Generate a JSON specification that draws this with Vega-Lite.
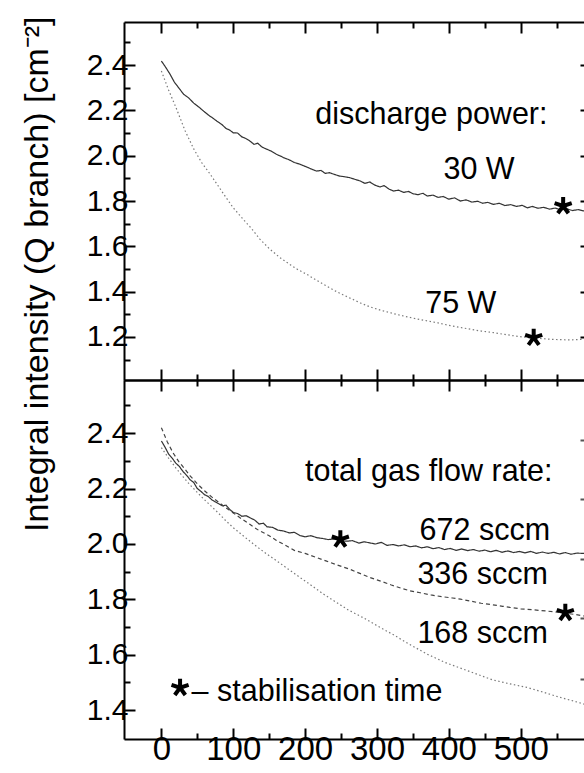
{
  "$schema": "https://vega.github.io/schema/vega-lite/v6.json",
  "padding": {"left": 19, "top": 15, "right": 0, "bottom": 0},
  "bounds": "flush",
  "spacing": 0,
  "background": "white",
  "resolve": {"scale": {"y": "independent", "color": "independent", "strokeDash": "independent"}},
  "config": {
    "view": {"stroke": null},
    "font": "Liberation Sans",
    "axis": {
      "grid": false,
      "domainColor": "#000",
      "domainWidth": 2,
      "tickColor": "#000",
      "tickWidth": 2,
      "labelColor": "#000",
      "labelFont": "Liberation Sans",
      "labelFontSize": 30,
      "titleColor": "#000"
    }
  },
  "datasets": {
    "upper": [
      {"s":"30 W","t":0,"v":2.418},{"s":"30 W","t":6,"v":2.39},{"s":"30 W","t":12,"v":2.36},{"s":"30 W","t":18,"v":2.325},{"s":"30 W","t":24,"v":2.3},{"s":"30 W","t":31,"v":2.271},{"s":"30 W","t":38,"v":2.255},{"s":"30 W","t":45,"v":2.232},{"s":"30 W","t":52,"v":2.215},{"s":"30 W","t":59,"v":2.196},{"s":"30 W","t":66,"v":2.178},{"s":"30 W","t":72,"v":2.165},{"s":"30 W","t":77,"v":2.153},{"s":"30 W","t":84,"v":2.138},{"s":"30 W","t":90,"v":2.12},{"s":"30 W","t":95,"v":2.113},{"s":"30 W","t":100,"v":2.101},{"s":"30 W","t":106,"v":2.1},{"s":"30 W","t":112,"v":2.083},{"s":"30 W","t":118,"v":2.075},{"s":"30 W","t":123,"v":2.065},{"s":"30 W","t":129,"v":2.05},{"s":"30 W","t":134,"v":2.055},{"s":"30 W","t":140,"v":2.038},{"s":"30 W","t":147,"v":2.028},{"s":"30 W","t":153,"v":2.02},{"s":"30 W","t":160,"v":2.006},{"s":"30 W","t":166,"v":1.998},{"s":"30 W","t":170,"v":1.991},{"s":"30 W","t":177,"v":1.983},{"s":"30 W","t":185,"v":1.97},{"s":"30 W","t":193,"v":1.962},{"s":"30 W","t":200,"v":1.953},{"s":"30 W","t":208,"v":1.942},{"s":"30 W","t":216,"v":1.932},{"s":"30 W","t":222,"v":1.935},{"s":"30 W","t":228,"v":1.922},{"s":"30 W","t":234,"v":1.925},{"s":"30 W","t":240,"v":1.918},{"s":"30 W","t":248,"v":1.91},{"s":"30 W","t":255,"v":1.907},{"s":"30 W","t":262,"v":1.903},{"s":"30 W","t":270,"v":1.895},{"s":"30 W","t":277,"v":1.888},{"s":"30 W","t":283,"v":1.878},{"s":"30 W","t":290,"v":1.884},{"s":"30 W","t":297,"v":1.87},{"s":"30 W","t":304,"v":1.862},{"s":"30 W","t":310,"v":1.868},{"s":"30 W","t":317,"v":1.852},{"s":"30 W","t":323,"v":1.844},{"s":"30 W","t":330,"v":1.848},{"s":"30 W","t":337,"v":1.838},{"s":"30 W","t":344,"v":1.842},{"s":"30 W","t":350,"v":1.832},{"s":"30 W","t":357,"v":1.828},{"s":"30 W","t":364,"v":1.834},{"s":"30 W","t":370,"v":1.822},{"s":"30 W","t":378,"v":1.826},{"s":"30 W","t":385,"v":1.816},{"s":"30 W","t":392,"v":1.82},{"s":"30 W","t":400,"v":1.808},{"s":"30 W","t":408,"v":1.814},{"s":"30 W","t":416,"v":1.8},{"s":"30 W","t":424,"v":1.805},{"s":"30 W","t":432,"v":1.795},{"s":"30 W","t":440,"v":1.799},{"s":"30 W","t":447,"v":1.79},{"s":"30 W","t":454,"v":1.794},{"s":"30 W","t":462,"v":1.785},{"s":"30 W","t":470,"v":1.79},{"s":"30 W","t":478,"v":1.78},{"s":"30 W","t":486,"v":1.784},{"s":"30 W","t":494,"v":1.776},{"s":"30 W","t":502,"v":1.781},{"s":"30 W","t":509,"v":1.77},{"s":"30 W","t":516,"v":1.776},{"s":"30 W","t":524,"v":1.768},{"s":"30 W","t":532,"v":1.772},{"s":"30 W","t":540,"v":1.764},{"s":"30 W","t":548,"v":1.769},{"s":"30 W","t":556,"v":1.76},{"s":"30 W","t":564,"v":1.765},{"s":"30 W","t":572,"v":1.758},{"s":"30 W","t":580,"v":1.762},{"s":"30 W","t":588,"v":1.756},
      {"s":"75 W","t":0,"v":2.374},{"s":"75 W","t":10,"v":2.29},{"s":"75 W","t":20,"v":2.215},{"s":"75 W","t":33,"v":2.11},{"s":"75 W","t":45,"v":2.03},{"s":"75 W","t":56,"v":1.97},{"s":"75 W","t":68,"v":1.918},{"s":"75 W","t":80,"v":1.862},{"s":"75 W","t":90,"v":1.815},{"s":"75 W","t":100,"v":1.77},{"s":"75 W","t":115,"v":1.715},{"s":"75 W","t":125,"v":1.68},{"s":"75 W","t":137,"v":1.632},{"s":"75 W","t":150,"v":1.59},{"s":"75 W","t":165,"v":1.55},{"s":"75 W","t":180,"v":1.517},{"s":"75 W","t":190,"v":1.497},{"s":"75 W","t":202,"v":1.477},{"s":"75 W","t":215,"v":1.452},{"s":"75 W","t":230,"v":1.424},{"s":"75 W","t":245,"v":1.398},{"s":"75 W","t":260,"v":1.375},{"s":"75 W","t":277,"v":1.35},{"s":"75 W","t":290,"v":1.333},{"s":"75 W","t":305,"v":1.318},{"s":"75 W","t":323,"v":1.303},{"s":"75 W","t":340,"v":1.29},{"s":"75 W","t":355,"v":1.28},{"s":"75 W","t":370,"v":1.271},{"s":"75 W","t":385,"v":1.262},{"s":"75 W","t":400,"v":1.251},{"s":"75 W","t":416,"v":1.242},{"s":"75 W","t":430,"v":1.234},{"s":"75 W","t":445,"v":1.226},{"s":"75 W","t":462,"v":1.219},{"s":"75 W","t":478,"v":1.211},{"s":"75 W","t":493,"v":1.204},{"s":"75 W","t":509,"v":1.197},{"s":"75 W","t":525,"v":1.194},{"s":"75 W","t":540,"v":1.19},{"s":"75 W","t":555,"v":1.188},{"s":"75 W","t":570,"v":1.187},{"s":"75 W","t":588,"v":1.19}
    ],
    "upperStars": [{"t":559,"v":1.778},{"t":518,"v":1.197}],
    "upperText": [
      {"t":375.6,"v":2.138,"label":"discharge power:"},
      {"t":442,"v":1.896,"label":"30 W"},
      {"t":416.6,"v":1.307,"label":"75 W"}
    ],
    "lower": [
      {"s":"672 sccm","t":0,"v":2.372},{"s":"672 sccm","t":5,"v":2.35},{"s":"672 sccm","t":10,"v":2.325},{"s":"672 sccm","t":15,"v":2.31},{"s":"672 sccm","t":20,"v":2.292},{"s":"672 sccm","t":25,"v":2.28},{"s":"672 sccm","t":30,"v":2.262},{"s":"672 sccm","t":35,"v":2.248},{"s":"672 sccm","t":40,"v":2.232},{"s":"672 sccm","t":45,"v":2.222},{"s":"672 sccm","t":50,"v":2.2},{"s":"672 sccm","t":55,"v":2.19},{"s":"672 sccm","t":60,"v":2.178},{"s":"672 sccm","t":65,"v":2.172},{"s":"672 sccm","t":70,"v":2.16},{"s":"672 sccm","t":75,"v":2.152},{"s":"672 sccm","t":80,"v":2.145},{"s":"672 sccm","t":85,"v":2.138},{"s":"672 sccm","t":90,"v":2.14},{"s":"672 sccm","t":95,"v":2.125},{"s":"672 sccm","t":100,"v":2.114},{"s":"672 sccm","t":106,"v":2.11},{"s":"672 sccm","t":112,"v":2.1},{"s":"672 sccm","t":118,"v":2.102},{"s":"672 sccm","t":123,"v":2.095},{"s":"672 sccm","t":130,"v":2.086},{"s":"672 sccm","t":136,"v":2.072},{"s":"672 sccm","t":142,"v":2.075},{"s":"672 sccm","t":147,"v":2.062},{"s":"672 sccm","t":155,"v":2.06},{"s":"672 sccm","t":162,"v":2.05},{"s":"672 sccm","t":170,"v":2.047},{"s":"672 sccm","t":178,"v":2.04},{"s":"672 sccm","t":185,"v":2.042},{"s":"672 sccm","t":193,"v":2.03},{"s":"672 sccm","t":200,"v":2.026},{"s":"672 sccm","t":208,"v":2.03},{"s":"672 sccm","t":216,"v":2.023},{"s":"672 sccm","t":224,"v":2.02},{"s":"672 sccm","t":232,"v":2.016},{"s":"672 sccm","t":240,"v":2.018},{"s":"672 sccm","t":249,"v":2.012},{"s":"672 sccm","t":258,"v":2.01},{"s":"672 sccm","t":266,"v":2.012},{"s":"672 sccm","t":275,"v":2.003},{"s":"672 sccm","t":282,"v":2.008},{"s":"672 sccm","t":290,"v":2.004},{"s":"672 sccm","t":298,"v":2.0},{"s":"672 sccm","t":306,"v":2.006},{"s":"672 sccm","t":314,"v":1.995},{"s":"672 sccm","t":322,"v":1.998},{"s":"672 sccm","t":330,"v":1.993},{"s":"672 sccm","t":338,"v":1.997},{"s":"672 sccm","t":346,"v":1.99},{"s":"672 sccm","t":354,"v":1.993},{"s":"672 sccm","t":362,"v":1.986},{"s":"672 sccm","t":370,"v":1.99},{"s":"672 sccm","t":378,"v":1.983},{"s":"672 sccm","t":386,"v":1.987},{"s":"672 sccm","t":394,"v":1.98},{"s":"672 sccm","t":402,"v":1.984},{"s":"672 sccm","t":410,"v":1.977},{"s":"672 sccm","t":418,"v":1.982},{"s":"672 sccm","t":426,"v":1.976},{"s":"672 sccm","t":434,"v":1.98},{"s":"672 sccm","t":442,"v":1.974},{"s":"672 sccm","t":450,"v":1.978},{"s":"672 sccm","t":458,"v":1.972},{"s":"672 sccm","t":466,"v":1.977},{"s":"672 sccm","t":474,"v":1.97},{"s":"672 sccm","t":482,"v":1.975},{"s":"672 sccm","t":490,"v":1.969},{"s":"672 sccm","t":498,"v":1.973},{"s":"672 sccm","t":506,"v":1.968},{"s":"672 sccm","t":514,"v":1.973},{"s":"672 sccm","t":522,"v":1.966},{"s":"672 sccm","t":530,"v":1.971},{"s":"672 sccm","t":538,"v":1.966},{"s":"672 sccm","t":546,"v":1.97},{"s":"672 sccm","t":554,"v":1.964},{"s":"672 sccm","t":562,"v":1.969},{"s":"672 sccm","t":570,"v":1.963},{"s":"672 sccm","t":578,"v":1.967},{"s":"672 sccm","t":588,"v":1.966},
      {"s":"336 sccm","t":0,"v":2.42},{"s":"336 sccm","t":8,"v":2.37},{"s":"336 sccm","t":16,"v":2.33},{"s":"336 sccm","t":24,"v":2.298},{"s":"336 sccm","t":31,"v":2.276},{"s":"336 sccm","t":40,"v":2.246},{"s":"336 sccm","t":50,"v":2.217},{"s":"336 sccm","t":60,"v":2.192},{"s":"336 sccm","t":70,"v":2.17},{"s":"336 sccm","t":77,"v":2.156},{"s":"336 sccm","t":90,"v":2.13},{"s":"336 sccm","t":100,"v":2.112},{"s":"336 sccm","t":112,"v":2.09},{"s":"336 sccm","t":123,"v":2.071},{"s":"336 sccm","t":135,"v":2.05},{"s":"336 sccm","t":150,"v":2.03},{"s":"336 sccm","t":160,"v":2.013},{"s":"336 sccm","t":170,"v":1.999},{"s":"336 sccm","t":185,"v":1.977},{"s":"336 sccm","t":200,"v":1.966},{"s":"336 sccm","t":216,"v":1.951},{"s":"336 sccm","t":230,"v":1.938},{"s":"336 sccm","t":245,"v":1.924},{"s":"336 sccm","t":262,"v":1.909},{"s":"336 sccm","t":277,"v":1.893},{"s":"336 sccm","t":290,"v":1.879},{"s":"336 sccm","t":305,"v":1.866},{"s":"336 sccm","t":320,"v":1.852},{"s":"336 sccm","t":334,"v":1.84},{"s":"336 sccm","t":346,"v":1.831},{"s":"336 sccm","t":360,"v":1.824},{"s":"336 sccm","t":375,"v":1.816},{"s":"336 sccm","t":390,"v":1.81},{"s":"336 sccm","t":405,"v":1.805},{"s":"336 sccm","t":416,"v":1.801},{"s":"336 sccm","t":430,"v":1.794},{"s":"336 sccm","t":445,"v":1.786},{"s":"336 sccm","t":460,"v":1.781},{"s":"336 sccm","t":475,"v":1.775},{"s":"336 sccm","t":485,"v":1.771},{"s":"336 sccm","t":500,"v":1.766},{"s":"336 sccm","t":515,"v":1.763},{"s":"336 sccm","t":536,"v":1.758},{"s":"336 sccm","t":550,"v":1.754},{"s":"336 sccm","t":565,"v":1.749},{"s":"336 sccm","t":577,"v":1.745},{"s":"336 sccm","t":588,"v":1.74},
      {"s":"168 sccm","t":0,"v":2.348},{"s":"168 sccm","t":10,"v":2.31},{"s":"168 sccm","t":20,"v":2.275},{"s":"168 sccm","t":30,"v":2.243},{"s":"168 sccm","t":40,"v":2.213},{"s":"168 sccm","t":50,"v":2.186},{"s":"168 sccm","t":59,"v":2.162},{"s":"168 sccm","t":70,"v":2.135},{"s":"168 sccm","t":80,"v":2.11},{"s":"168 sccm","t":90,"v":2.083},{"s":"168 sccm","t":100,"v":2.059},{"s":"168 sccm","t":115,"v":2.027},{"s":"168 sccm","t":130,"v":1.996},{"s":"168 sccm","t":147,"v":1.963},{"s":"168 sccm","t":160,"v":1.94},{"s":"168 sccm","t":175,"v":1.912},{"s":"168 sccm","t":193,"v":1.879},{"s":"168 sccm","t":210,"v":1.848},{"s":"168 sccm","t":225,"v":1.82},{"s":"168 sccm","t":240,"v":1.795},{"s":"168 sccm","t":260,"v":1.762},{"s":"168 sccm","t":280,"v":1.735},{"s":"168 sccm","t":300,"v":1.705},{"s":"168 sccm","t":323,"v":1.672},{"s":"168 sccm","t":345,"v":1.638},{"s":"168 sccm","t":370,"v":1.602},{"s":"168 sccm","t":395,"v":1.572},{"s":"168 sccm","t":420,"v":1.548},{"s":"168 sccm","t":439,"v":1.53},{"s":"168 sccm","t":460,"v":1.51},{"s":"168 sccm","t":485,"v":1.495},{"s":"168 sccm","t":509,"v":1.482},{"s":"168 sccm","t":530,"v":1.466},{"s":"168 sccm","t":555,"v":1.446},{"s":"168 sccm","t":575,"v":1.432},{"s":"168 sccm","t":588,"v":1.422}
    ],
    "lowerStars": [{"t":249,"v":2.017},{"t":562,"v":1.752},{"t":26,"v":1.481}],
    "lowerText": [
      {"t":372,"v":2.227,"label":"total gas flow rate:"},
      {"t":450,"v":2.013,"label":"672 sccm"},
      {"t":447,"v":1.855,"label":"336 sccm"},
      {"t":447,"v":1.644,"label":"168 sccm"}
    ],
    "lowerNote": [{"t":42,"v":1.433,"label":"– stabilisation time"}]
  },
  "vconcat": [
    {
      "width": 460,
      "height": 358,
      "resolve": {"axis": {"x": "independent", "y": "independent"}},
      "layer": [
        {
          "data": {"name": "upper"},
          "mark": {"type": "line", "strokeWidth": 1.2},
          "encoding": {
            "x": {"field": "t", "type": "quantitative", "scale": {"domain": [-52, 588], "nice": false, "zero": false},
              "axis": {"orient": "bottom", "values": [0,50,100,150,200,250,300,350,400,450,500,550], "labels": false, "title": null,
                "tickSize": {"condition": {"test": "datum.value % 100 === 0", "value": -11}, "value": -6}}},
            "y": {"field": "v", "type": "quantitative", "scale": {"domain": [1.01, 2.59], "nice": false, "zero": false},
              "axis": {"orient": "left", "values": [1.1,1.2,1.3,1.4,1.5,1.6,1.7,1.8,1.9,2.0,2.1,2.2,2.3,2.4,2.5],
                "labelExpr": "round(datum.value*10) % 2 === 0 ? format(datum.value, '.1f') : ''",
                "tickSize": {"condition": {"test": "round(datum.value*10) % 2 === 0", "value": -11}, "value": -6},
                "labelPadding": 7, "minExtent": 58, "maxExtent": 58,
                "title": "Integral intensity (Q branch) [cm⁻²]",
                "titleFont": "Liberation Sans", "titleFontSize": 34, "titleFontWeight": "normal",
                "titleAnchor": "end", "titleY": -6, "titlePadding": 12}},
            "color": {"field": "s", "type": "nominal", "scale": {"domain": ["30 W","75 W"], "range": ["#333333","#7a7a7a"]}, "legend": null},
            "strokeDash": {"field": "s", "type": "nominal", "scale": {"domain": ["30 W","75 W"], "range": [[1,0],[1.5,2.5]]}, "legend": null}
          }
        },
        {
          "data": {"name": "upperStars"},
          "mark": {"type": "point", "shape": "M0,0L0,-1M0,0L0.951,-0.309M0,0L0.588,0.809M0,0L-0.588,0.809M0,0L-0.951,-0.309", "size": 324, "strokeWidth": 4, "color": "#000", "filled": false, "opacity": 1},
          "encoding": {
            "x": {"field": "t", "type": "quantitative",
              "axis": {"orient": "top", "values": [0,50,100,150,200,250,300,350,400,450,500,550], "labels": false, "title": null,
                "tickSize": {"condition": {"test": "datum.value % 100 === 0", "value": -11}, "value": -6}}},
            "y": {"field": "v", "type": "quantitative",
              "axis": {"orient": "right", "values": [1.2,1.4,1.6,1.8,2.0,2.2,2.4], "labels": false, "title": null, "domain": false, "tickSize": -4}}
          }
        },
        {
          "data": {"name": "upperText"},
          "mark": {"type": "text", "fontSize": 30.5, "align": "center", "baseline": "alphabetic", "color": "#000", "font": "Liberation Sans"},
          "encoding": {
            "x": {"field": "t", "type": "quantitative", "axis": null},
            "y": {"field": "v", "type": "quantitative", "axis": null},
            "text": {"field": "label"}
          }
        }
      ]
    },
    {
      "width": 460,
      "height": 359,
      "resolve": {"axis": {"x": "independent", "y": "independent"}},
      "layer": [
        {
          "data": {"name": "lower"},
          "mark": {"type": "line", "strokeWidth": 1.2},
          "encoding": {
            "x": {"field": "t", "type": "quantitative", "scale": {"domain": [-52, 588], "nice": false, "zero": false},
              "axis": {"orient": "bottom", "values": [0,50,100,150,200,250,300,350,400,450,500,550],
                "labelExpr": "datum.value % 100 === 0 ? datum.label : ''", "labelPadding": 5, "labelFontSize": 33, "title": null,
                "tickSize": {"condition": {"test": "datum.value % 100 === 0", "value": -11}, "value": -6}}},
            "y": {"field": "v", "type": "quantitative", "scale": {"domain": [1.296, 2.592], "nice": false, "zero": false},
              "axis": {"orient": "left", "values": [1.4,1.5,1.6,1.7,1.8,1.9,2.0,2.1,2.2,2.3,2.4,2.5],
                "labelExpr": "round(datum.value*10) % 2 === 0 ? format(datum.value, '.1f') : ''",
                "tickSize": {"condition": {"test": "round(datum.value*10) % 2 === 0", "value": -11}, "value": -6},
                "labelPadding": 7, "minExtent": 58, "maxExtent": 58, "title": null}},
            "color": {"field": "s", "type": "nominal", "scale": {"domain": ["672 sccm","336 sccm","168 sccm"], "range": ["#333333","#444444","#7a7a7a"]}, "legend": null},
            "strokeDash": {"field": "s", "type": "nominal", "scale": {"domain": ["672 sccm","336 sccm","168 sccm"], "range": [[1,0],[4,3],[1.5,2.5]]}, "legend": null}
          }
        },
        {
          "data": {"name": "lowerStars"},
          "mark": {"type": "point", "shape": "M0,0L0,-1M0,0L0.951,-0.309M0,0L0.588,0.809M0,0L-0.588,0.809M0,0L-0.951,-0.309", "size": 324, "strokeWidth": 4, "color": "#000", "filled": false, "opacity": 1},
          "encoding": {
            "x": {"field": "t", "type": "quantitative",
              "axis": {"orient": "top", "values": [0,50,100,150,200,250,300,350,400,450,500,550], "labels": false, "title": null,
                "tickSize": {"condition": {"test": "datum.value % 100 === 0", "value": -11}, "value": -6}}},
            "y": {"field": "v", "type": "quantitative",
              "axis": {"orient": "right", "values": [1.512,1.732,1.945,2.162,2.375], "labels": false, "title": null, "domain": false, "tickSize": -4, "tickColor": "#555"}}
          }
        },
        {
          "data": {"name": "lowerText"},
          "mark": {"type": "text", "fontSize": 30.5, "align": "center", "baseline": "alphabetic", "color": "#000", "font": "Liberation Sans"},
          "encoding": {
            "x": {"field": "t", "type": "quantitative", "axis": null},
            "y": {"field": "v", "type": "quantitative", "axis": null},
            "text": {"field": "label"}
          }
        },
        {
          "data": {"name": "lowerNote"},
          "mark": {"type": "text", "fontSize": 30.5, "align": "left", "baseline": "alphabetic", "color": "#000", "font": "Liberation Sans"},
          "encoding": {
            "x": {"field": "t", "type": "quantitative", "axis": null},
            "y": {"field": "v", "type": "quantitative", "axis": null},
            "text": {"field": "label"}
          }
        }
      ]
    }
  ]
}
